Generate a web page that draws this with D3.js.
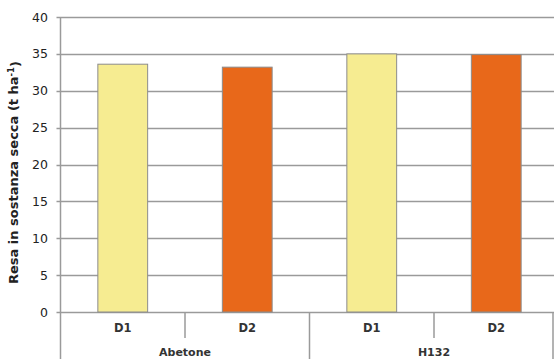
<!DOCTYPE html>
<html><head><meta charset="utf-8">
<script src="https://cdn.jsdelivr.net/npm/d3@7"></script>
<style>body{margin:0;background:#fff}svg{display:block}text{font-family:"DejaVu Sans",Verdana,sans-serif}</style>
</head><body>
<svg id="c" width="554" height="359"></svg>
<script>
const groups = ["Abetone", "H132"];
const doses = ["D1", "D2"];
const values = [33.6, 33.2, 35.0, 34.9];
const yTicks = [0, 5, 10, 15, 20, 25, 30, 35, 40];
const colors = {D1: "#F6EC91", D2: "#E8681A"};

const data = [];
groups.forEach((g, gi) => doses.forEach((d, di) => data.push({g, d, key: g + "|" + d, v: values[gi * 2 + di]})));

const svg = d3.select("#c");
const L = 60.5, R = 558.5, T = 17, B = 312;
const x = d3.scaleBand().domain(data.map(d => d.key)).range([L, R]).paddingInner(0.6).paddingOuter(0.3);
const xs = d3.scaleBand().domain(data.map(d => d.key)).range([L, R]);
const y = d3.scaleLinear().domain([0, 40]).range([B, T]);
const grid = "#9a9a9a";

// gridlines
svg.append("g").selectAll("line").data(yTicks).join("line")
  .attr("x1", L - 4).attr("x2", 554).attr("y1", d => Math.round(y(d)) + 0.5).attr("y2", d => Math.round(y(d)) + 0.5)
  .attr("stroke", grid).attr("stroke-width", 1.5);

// y axis labels
svg.append("g").selectAll("text").data(yTicks).join("text")
  .attr("x", 48).attr("y", d => y(d)).attr("dy", "0.36em").attr("text-anchor", "end")
  .attr("font-size", 12.5).attr("fill", "#222").text(d => d);

// bars
svg.append("g").selectAll("rect").data(data).join("rect")
  .attr("x", d => x(d.key)).attr("width", x.bandwidth())
  .attr("y", d => y(d.v)).attr("height", d => y(0) - y(d.v))
  .attr("fill", d => colors[d.d]).attr("stroke", "#8c8c8c").attr("stroke-width", 1);

// axis lines
svg.append("line").attr("x1", L).attr("x2", L).attr("y1", T).attr("y2", 359).attr("stroke", grid).attr("stroke-width", 1.5);

// category separators
const innerTicks = data.filter((d, i) => i % 2 === 1).map(d => xs(d.key));
svg.append("g").selectAll("line").data(innerTicks).join("line")
  .attr("x1", d => d).attr("x2", d => d).attr("y1", B).attr("y2", 338)
  .attr("stroke", grid).attr("stroke-width", 1.5);
const groupEdges = data.filter((d, i) => i % 2 === 1).map(d => xs(d.key) + xs.bandwidth());
svg.append("g").selectAll("line").data(groupEdges).join("line")
  .attr("x1", d => Math.min(d, 553)).attr("x2", d => Math.min(d, 553)).attr("y1", B).attr("y2", 359)
  .attr("stroke", grid).attr("stroke-width", 1.5);

// category labels
svg.append("g").selectAll("text").data(data).join("text")
  .attr("x", d => xs(d.key) + xs.bandwidth() / 2).attr("y", 332).attr("text-anchor", "middle")
  .attr("font-size", 11.5).attr("font-weight", "bold").attr("fill", "#333").text(d => d.d);

// group labels
svg.append("g").selectAll("text").data(groups).join("text")
  .attr("x", (g, i) => xs(g + "|D2")).attr("y", 356).attr("text-anchor", "middle")
  .attr("font-size", 11).attr("font-weight", "bold").attr("fill", "#333").text(g => g);

// y title
const yt = svg.append("text").attr("transform", "translate(18," + ((T + B) / 2 + 8) + ") rotate(-90)")
  .attr("text-anchor", "middle").attr("font-size", 13).attr("font-weight", "bold").attr("fill", "#222");
yt.append("tspan").text("Resa in sostanza secca (t ha");
yt.append("tspan").attr("dy", "-0.5em").attr("font-size", 8.5).text("-1");
yt.append("tspan").attr("dy", "0.5em").text(")");
</script>
</body></html>
